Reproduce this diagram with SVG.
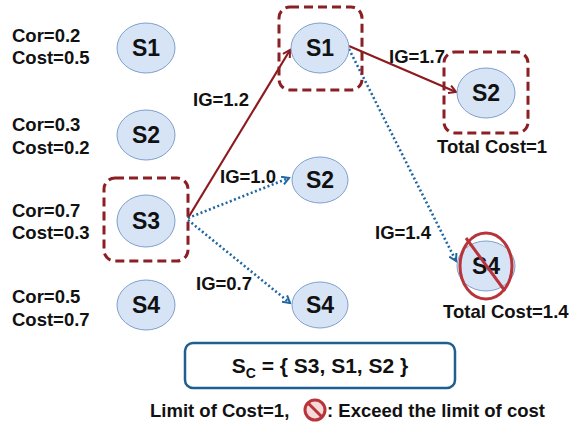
<svg xmlns="http://www.w3.org/2000/svg" width="571" height="431" viewBox="0 0 571 431">
  <defs>
    <style>
      .t { font-family: "Liberation Sans", Arial, sans-serif; font-weight: bold; fill: #111; }
      .lbl { font-size: 18.5px; }
      .nd { font-size: 23px; text-anchor: middle; }
      .ell { fill: #d6e4f6; stroke: #7f9fcc; stroke-width: 1; }
      .sel { fill: none; stroke: #8c1f24; stroke-width: 3; stroke-dasharray: 9 5; }
      .red { stroke: #8c1a1f; stroke-width: 2.2; fill: none; }
      .blue { stroke: #1f66a3; stroke-width: 2.6; fill: none; stroke-dasharray: 2 2.5; }
    </style>
    <marker id="ahRed" markerWidth="10" markerHeight="10" refX="8" refY="5" orient="auto" markerUnits="userSpaceOnUse">
      <path d="M1,1 L8,5 L1,9" fill="none" stroke="#8c1a1f" stroke-width="2"/>
    </marker>
    <marker id="ahBlue" markerWidth="10" markerHeight="10" refX="8" refY="5" orient="auto" markerUnits="userSpaceOnUse">
      <path d="M1,1 L8,5 L1,9" fill="none" stroke="#1f66a3" stroke-width="2"/>
    </marker>
  </defs>
  <rect width="571" height="431" fill="#ffffff"/>

  <!-- attribute labels -->
  <g id="attrs" class="t lbl">
    <text x="12" y="42">Cor=0.2</text>
    <text x="12" y="64">Cost=0.5</text>
    <text x="12" y="131">Cor=0.3</text>
    <text x="12" y="154">Cost=0.2</text>
    <text x="12" y="217">Cor=0.7</text>
    <text x="12" y="239">Cost=0.3</text>
    <text x="12" y="303">Cor=0.5</text>
    <text x="12" y="326">Cost=0.7</text>
  </g>

  <!-- connectors -->
  <g id="connectors">
    <line class="red" x1="188" y1="218" x2="290" y2="50" marker-end="url(#ahRed)"/>
    <line class="blue" x1="188" y1="218" x2="289" y2="178" marker-end="url(#ahBlue)"/>
    <line class="blue" x1="188" y1="220" x2="290" y2="303" marker-end="url(#ahBlue)"/>
    <line class="red" x1="349" y1="46" x2="456" y2="92" marker-end="url(#ahRed)"/>
    <line class="blue" x1="349" y1="49" x2="456" y2="261" marker-end="url(#ahBlue)"/>
    <g class="t lbl">
      <text x="193" y="106">IG=1.2</text>
      <text x="220" y="183">IG=1.0</text>
      <text x="196" y="290">IG=0.7</text>
      <text x="389" y="63">IG=1.7</text>
      <text x="375" y="239">IG=1.4</text>
    </g>
  </g>

  <!-- left column -->
  <g id="L1"><ellipse class="ell" cx="146" cy="48" rx="29" ry="25"/><text class="t nd" x="146" y="56">S1</text></g>
  <g id="L2"><ellipse class="ell" cx="146" cy="135" rx="29" ry="25"/><text class="t nd" x="146" y="143">S2</text></g>
  <g id="L3">
    <rect class="sel" x="104" y="178" width="84" height="83" rx="11"/>
    <ellipse class="ell" cx="146" cy="221" rx="29" ry="26"/><text class="t nd" x="146" y="229">S3</text>
  </g>
  <g id="L4"><ellipse class="ell" cx="146" cy="305" rx="29" ry="25"/><text class="t nd" x="146" y="313">S4</text></g>

  <!-- middle column -->
  <g id="M1">
    <rect class="sel" x="279" y="7" width="83" height="83" rx="11"/>
    <ellipse class="ell" cx="320" cy="48" rx="29" ry="25"/><text class="t nd" x="320" y="56">S1</text>
  </g>
  <g id="M2"><ellipse class="ell" cx="320" cy="180" rx="28" ry="23"/><text class="t nd" x="320" y="188">S2</text></g>
  <g id="M4"><ellipse class="ell" cx="320" cy="305" rx="28" ry="23"/><text class="t nd" x="320" y="313">S4</text></g>

  <!-- right column -->
  <g id="R2">
    <rect class="sel" x="444" y="52" width="84" height="81" rx="11"/>
    <ellipse class="ell" cx="486" cy="93" rx="29" ry="25"/><text class="t nd" x="486" y="101">S2</text>
    <text class="t lbl" x="437" y="153">Total Cost=1</text>
  </g>
  <g id="R4">
    <ellipse class="ell" cx="486" cy="266" rx="29" ry="25"/><text class="t nd" x="486" y="274">S4</text>
    <ellipse cx="486" cy="266" rx="26" ry="33" fill="none" stroke="#b8343a" stroke-width="3"/>
    <line x1="466" y1="238" x2="505" y2="291" stroke="#b8343a" stroke-width="3"/>
    <text class="t lbl" x="443" y="318">Total Cost=1.4</text>
  </g>

  <!-- selected set -->
  <g id="result">
    <rect x="185" y="343" width="270" height="45" rx="8" fill="#ffffff" stroke="#1d5f93" stroke-width="2.5"/>
    <text class="t" x="320" y="373" font-size="21" text-anchor="middle">S<tspan font-size="14" dy="5">C</tspan><tspan dy="-5"> = { S3, S1, S2 }</tspan></text>
  </g>

  <!-- legend -->
  <g id="legend">
    <text class="t lbl" x="150" y="417">Limit of Cost=1,</text>
    <circle cx="315" cy="410" r="10" fill="#f6d9d9" stroke="#b8343a" stroke-width="3"/>
    <line x1="308" y1="403" x2="322" y2="417" stroke="#b8343a" stroke-width="3"/>
    <text class="t lbl" x="327" y="417">: Exceed the limit of cost</text>
  </g>
</svg>
